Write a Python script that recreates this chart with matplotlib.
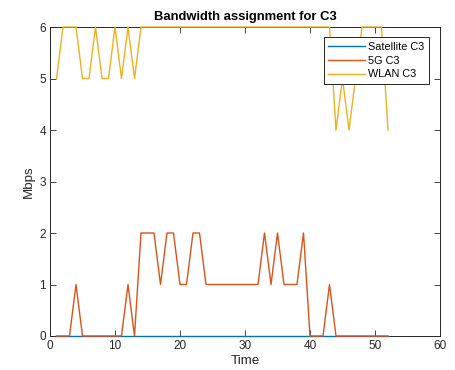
import matplotlib.pyplot as plt
import numpy as np

plt.rcParams['font.family'] = ['Liberation Sans', 'DejaVu Sans']

time = np.arange(1, 53)
satellite = [0] * 52
fiveg = [0, 0, 0, 1, 0, 0, 0, 0, 0, 0, 0, 1, 0, 2, 2, 2, 1, 2, 2, 1,
         1, 2, 2, 1, 1, 1, 1, 1, 1, 1, 1, 1, 2, 1, 2, 1, 1, 1, 2, 0,
         0, 0, 1, 0, 0, 0, 0, 0, 0, 0, 0, 0]
wlan = [5, 6, 6, 6, 5, 5, 6, 5, 5, 6, 5, 6, 5, 6, 6, 6, 6, 6, 6, 6,
        6, 6, 6, 6, 6, 6, 6, 6, 6, 6, 6, 6, 6, 6, 6, 6, 6, 6, 6, 6,
        6, 6, 6, 4, 5, 4, 5, 6, 6, 6, 6, 4]

fig = plt.figure(figsize=(4.56, 3.70), dpi=100)
ax = fig.add_axes([50/456, 1 - 336/370, 390/456, 309/370])

ax.plot(time, satellite, color='#0072BD', lw=1, label='Satellite C3', zorder=3, clip_on=False)
ax.plot(time, fiveg, color='#D95319', lw=1, label='5G C3', zorder=3, clip_on=False)
ax.plot(time, wlan, color='#EDB120', lw=1, label='WLAN C3', zorder=3, clip_on=False)

ax.set_xlim(0, 60)
ax.set_ylim(0, 6)
ax.set_xticks(range(0, 61, 10))
ax.set_yticks(range(0, 7))
ax.tick_params(direction='in', top=True, right=True, length=4, width=0.6,
               labelsize=8.5, colors='#262626', labelcolor='#262626', pad=3)
for s in ax.spines.values():
    s.set_color('#262626')
    s.set_linewidth(0.7)
ax.set_xlabel('Time', fontsize=9.6, color='#262626', labelpad=2)
ax.set_ylabel('Mbps', fontsize=9.6, color='#262626', labelpad=3)
ax.set_title('Bandwidth assignment for C3', fontsize=9.4, fontweight='bold', pad=5)

leg = ax.legend(loc='upper right', bbox_to_anchor=(0.972, 0.968), fontsize=7.8,
                handlelength=3.4, fancybox=False, framealpha=1, edgecolor='#262626',
                borderpad=0.45, labelspacing=0.35, handletextpad=0.25, borderaxespad=0)
leg.get_frame().set_linewidth(0.7)
leg.set_zorder(5)

fig.savefig('out.png', dpi=100)
